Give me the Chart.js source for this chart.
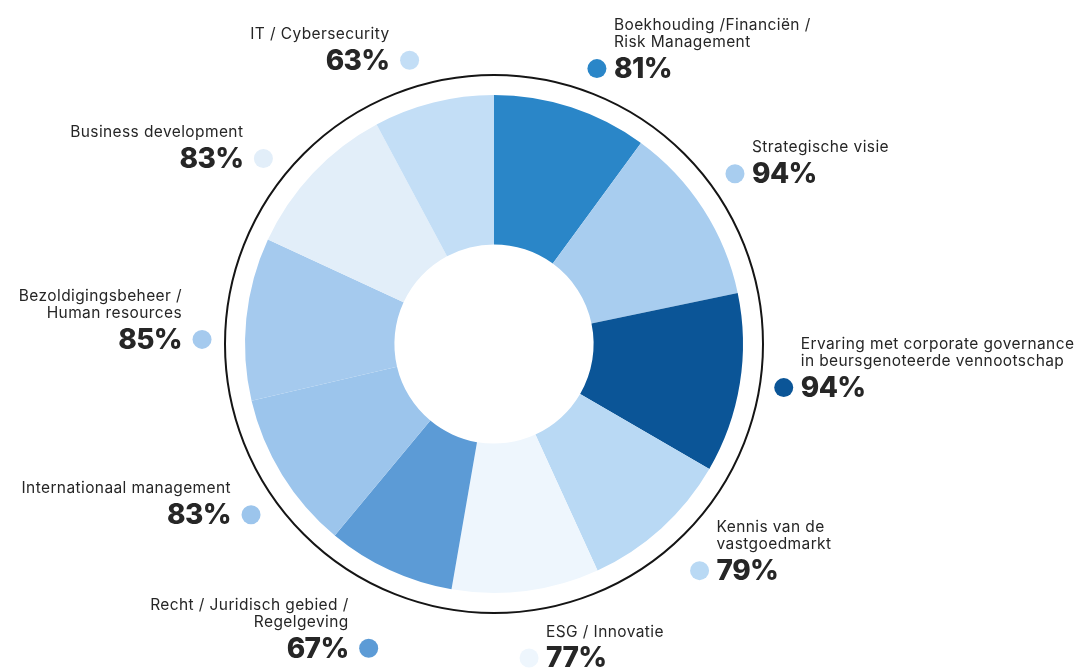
<!DOCTYPE html>
<html>
<head>
<meta charset="utf-8">
<script src="https://cdn.jsdelivr.net/npm/chart.js@4.4.1/dist/chart.umd.min.js"></script>
<style>
  html, body { margin: 0; padding: 0; background: #fff; }
  #wrap { width: 1078px; height: 669px; }
</style>
</head>
<body>
<div id="wrap"><canvas id="skills" width="1078" height="669"></canvas></div>
<script>
// competences of the board, share of members per field
const skills = [
  ['Boekhouding /Financiën /', 'Risk Management'],
  ['Strategische visie'],
  ['Ervaring met corporate governance', 'in beursgenoteerde vennootschap'],
  ['Kennis van de', 'vastgoedmarkt'],
  ['ESG / Innovatie'],
  ['Recht / Juridisch gebied /', 'Regelgeving'],
  ['Internationaal management'],
  ['Bezoldigingsbeheer /', 'Human resources'],
  ['Business development'],
  ['IT / Cybersecurity']
];
const scores = [81, 94, 94, 79, 77, 67, 83, 85, 83, 63];

const shades = ['#2a86c8', '#a8cdef', '#0b5597', '#b9d9f4', '#eef6fd',
                '#5c9bd6', '#9cc5ec', '#a5caee', '#e2eef9', '#c3def6'];
// label placement around the ring: extra distance (px) and turn (deg) off the slice middle
const labelPush = [-1, 0, -2, 11, 21, 34, 2, -3, 1, 1];
const labelTurn = [2.4, -2.4, -0.6, 0, 1, -2.4, -3.4, -4.9, -4.5, -2.5];

const ringAndLabels = {
  id: 'ringAndLabels',
  afterDatasetsDraw(chart) {
    const ctx = chart.ctx;
    const arcs = chart.getDatasetMeta(0).data;
    const cx = arcs[0].x, cy = arcs[0].y, R = arcs[0].outerRadius;
    ctx.save();
    ctx.beginPath();
    ctx.arc(cx, cy, R + 20, 0, Math.PI * 2);
    ctx.lineWidth = 2;
    ctx.strokeStyle = '#151515';
    ctx.stroke();

    arcs.forEach((arc, i) => {
      const mid = (arc.startAngle + arc.endAngle) / 2 + labelTurn[i] * Math.PI / 180;
      const r = R + 46 + labelPush[i];
      const x = cx + Math.cos(mid) * r;
      const y = cy + Math.sin(mid) * r;

      ctx.beginPath();
      ctx.arc(x, y, 9.5, 0, Math.PI * 2);
      ctx.fillStyle = shades[i];
      ctx.fill();

      const right = x > cx;
      const tx = right ? x + 17 : x - 20;
      ctx.textAlign = right ? 'left' : 'right';
      ctx.textBaseline = 'middle';
      ctx.fillStyle = '#262626';
      ctx.letterSpacing = '-0.6px';
      ctx.font = '800 28px Inter';
      ctx.fillText(scores[i] + '%', tx, y + 1);
      ctx.font = '400 15.5px Inter';
      ctx.letterSpacing = '0.4px';
      const lines = skills[i];
      lines.forEach((ln, k) => {
        ctx.fillText(ln, tx, y - 26 - (lines.length - 1 - k) * 17);
      });
    });
    ctx.restore();
  }
};

new Chart(document.getElementById('skills'), {
  type: 'doughnut',
  data: {
    labels: skills.map(l => l.join(' ')),
    datasets: [{
      data: scores,
      backgroundColor: shades,
      borderWidth: 0
    }]
  },
  options: {
    responsive: false,
    animation: false,
    cutout: '40%',
    layout: { padding: { left: 245, right: 335, top: 95, bottom: 76 } },
    plugins: { legend: { display: false }, tooltip: { enabled: false } }
  },
  plugins: [ringAndLabels]
});
</script>
</body>
</html>
